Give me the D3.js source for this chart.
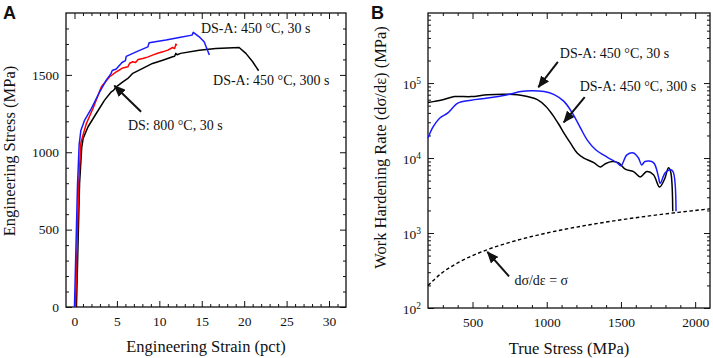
<!DOCTYPE html>
<html>
<head>
<meta charset="utf-8">
<script src="https://cdnjs.cloudflare.com/ajax/libs/d3/7.8.5/d3.min.js"></script>
<style>
  body { margin: 0; background: #fff; }
  svg { display: block; font-family: "Liberation Serif", "Times New Roman", serif; }
</style>
</head>
<body>
<svg id="chart" width="713" height="358"></svg>
<script>
// ---- panel A data: engineering strain (pct) vs engineering stress (MPa)
const blueA = [[0,0],[0.35,780],[0.55,1050],[0.75,1140],[1.2,1208],[2.0,1284],[2.97,1391],[3.75,1466],[4.3,1508],[4.45,1528],[4.92,1538],[5.6,1580],[6.0,1592],[6.1,1620],[7.27,1649],[8.64,1681],[8.8,1707],[10.78,1725],[12.34,1742],[13.85,1757],[14.0,1775],[14.7,1746],[15.28,1714],[15.9,1628]];
const redA = [[0.12,0],[0.5,800],[0.75,1060],[1.0,1110],[1.41,1187],[2.19,1284],[3.17,1423],[4.14,1488],[4.92,1520],[5.4,1535],[5.7,1545],[6.29,1552],[6.5,1575],[6.87,1585],[7.2,1580],[7.5,1600],[8.04,1606],[8.6,1615],[9.2,1628],[9.8,1640],[10.4,1649],[11.0,1660],[11.57,1677],[11.8,1670],[11.95,1699],[12.05,1690]];
const blackA = [[0.23,0],[0.6,800],[0.85,1030],[1.02,1090],[1.6,1165],[2.58,1252],[3.55,1337],[4.34,1391],[4.6,1400],[4.92,1423],[5.7,1455],[6.29,1477],[6.87,1510],[8.04,1542],[9.2,1574],[10.4,1595],[11.57,1617],[11.8,1620],[11.95,1639],[12.1,1630],[12.5,1639],[14.7,1660],[16.65,1671],[19.4,1677],[20.2,1639],[21.0,1585],[21.7,1527]];

const xTicksA = [0, 5, 10, 15, 20, 25, 30];
const yTicksA = [0, 500, 1000, 1500];

// ---- panel B data: true stress (MPa) vs work hardening rate (MPa)
const blueStressB = [200,234,278,334,401,490,602,736,826,893,982,1050,1116,1172,1228,1272,1328,1406,1473,1500,1540,1585,1618,1640,1662,1719,1752,1764,1797,1827,1849,1871];
const blueRateB = [1.85e4,2.6e4,3.4e4,4.0e4,5.4e4,5.9e4,6.3e4,7.0e4,7.7e4,7.9e4,7.7e4,7.0e4,5.7e4,4.0e4,2.5e4,1.75e4,1.3e4,1.03e4,8.7e3,7.9e3,1.1e4,1.17e4,1.0e4,8.1e3,9.0e3,8.7e3,5.7e3,4.6e3,6.3e3,7.0e3,6.7e3,1.95e3];
const blackStressB = [200,245,300,379,490,602,736,803,870,937,993,1038,1082,1116,1160,1205,1250,1317,1361,1395,1440,1485,1529,1585,1630,1674,1719,1760,1795,1820,1835,1849];
const blackRateB = [5.5e4,5.7e4,6.0e4,6.6e4,6.6e4,7.0e4,7.1e4,7.0e4,6.6e4,6.0e4,4.9e4,3.8e4,2.8e4,2.15e4,1.58e4,1.17e4,1.0e4,8.7e3,7.6e3,8.4e3,9.0e3,8.6e3,7.1e3,6.6e3,5.6e3,6.6e3,6.0e3,4.1e3,5.3e3,7.4e3,6.5e3,1.95e3];
// dσ/dε = σ reference line
const refLineB = [[200,200],[300,300],[400,400],[600,600],[800,800],[1000,1000],[1300,1300],[1600,1600],[1900,1900],[2100,2100]];

const xTicksB = [500, 1000, 1500, 2000];
const yDecadesB = [2, 3, 4, 5];

const svg = d3.select("#chart");
const ink = "#111";

// arrowhead marker
svg.append("defs").append("marker")
    .attr("id", "head")
    .attr("markerUnits", "userSpaceOnUse")
    .attr("viewBox", "0 0 12 10")
    .attr("refX", 11).attr("refY", 5)
    .attr("markerWidth", 12).attr("markerHeight", 10)
    .attr("orient", "auto")
  .append("path")
    .attr("d", "M0,0 L12,5 L0,10 Z")
    .attr("fill", ink);

function drawTicks(g, x, y, xMajor, xMinor, yMajor, yMinor, frame, xFmt, yFmt) {
    const [l, r] = x.range();
    const [b, t] = y.range();
    const tidy = sel => {
        sel.select(".domain").remove();
        sel.selectAll("line").attr("stroke", ink).attr("stroke-width", 1);
        sel.selectAll("text").attr("fill", ink).attr("font-size", "13.5px")
            .attr("font-family", "Liberation Serif, Times New Roman, serif");
    };
    g.append("g").attr("transform", `translate(0,${b})`)
        .call(d3.axisBottom(x).tickValues(xMajor).tickSize(-6).tickPadding(9).tickFormat(xFmt)).call(tidy);
    g.append("g").attr("transform", `translate(0,${b})`)
        .call(d3.axisBottom(x).tickValues(xMinor).tickSize(-3).tickFormat("")).call(tidy);
    g.append("g").attr("transform", `translate(0,${t})`)
        .call(d3.axisTop(x).tickValues(xMajor).tickSize(-6).tickFormat("")).call(tidy);
    g.append("g").attr("transform", `translate(0,${t})`)
        .call(d3.axisTop(x).tickValues(xMinor).tickSize(-3).tickFormat("")).call(tidy);
    g.append("g").attr("transform", `translate(${l},0)`)
        .call(d3.axisLeft(y).tickValues(yMajor).tickSize(-6).tickPadding(7).tickFormat(yFmt)).call(tidy);
    g.append("g").attr("transform", `translate(${l},0)`)
        .call(d3.axisLeft(y).tickValues(yMinor).tickSize(-3).tickFormat("")).call(tidy);
    g.append("g").attr("transform", `translate(${r},0)`)
        .call(d3.axisRight(y).tickValues(yMajor).tickSize(-6).tickFormat("")).call(tidy);
    g.append("g").attr("transform", `translate(${r},0)`)
        .call(d3.axisRight(y).tickValues(yMinor).tickSize(-3).tickFormat("")).call(tidy);
    g.append("rect")
        .attr("x", l).attr("y", t).attr("width", r - l).attr("height", b - t)
        .attr("fill", "none").attr("stroke", ink).attr("stroke-width", 1.3);
}

function note(g, x, y, pos, str) {
    g.append("text").attr("x", x(pos[0])).attr("y", y(pos[1])).attr("dy", "0.35em")
        .attr("font-size", "14px").attr("fill", ink).text(str);
}
function arrow(g, x, y, from, to) {
    g.append("line")
        .attr("x1", x(from[0])).attr("y1", y(from[1]))
        .attr("x2", x(to[0])).attr("y2", y(to[1]))
        .attr("stroke", ink).attr("stroke-width", 2)
        .attr("marker-end", "url(#head)");
}

// ================= Panel A =================
const xA = d3.scaleLinear().domain([-1, 32]).range([66, 346]);
const yA = d3.scaleLinear().domain([0, 1900]).range([307, 13]);
const gA = svg.append("g");

drawTicks(gA, xA, yA, xTicksA, d3.range(0, 32, 1).filter(v => v % 5),
    yTicksA, d3.range(100, 1900, 100).filter(v => v % 500), true, d3.format("d"), d3.format("d"));

const lineA = d3.line().x(d => xA(d[0])).y(d => yA(d[1]));
[[blackA, "#000"], [redA, "#f00"], [blueA, "#1a1aff"]].forEach(([data, c]) => {
    gA.append("path").datum(data).attr("d", lineA)
        .attr("fill", "none").attr("stroke", c).attr("stroke-width", 1.5)
        .attr("stroke-linejoin", "round");
});

note(gA, xA, yA, [14.9, 1800], "DS-A: 450 °C, 30 s");
note(gA, xA, yA, [16.33, 1466], "DS-A: 450 °C, 300 s");
note(gA, xA, yA, [6.3, 1176], "DS: 800 °C, 30 s");
arrow(gA, xA, yA, [7.85, 1262], [4.7, 1430]);

gA.append("text").attr("x", 206).attr("y", 352).attr("text-anchor", "middle")
    .attr("font-size", "16.5px").attr("fill", ink).text("Engineering Strain (pct)");
gA.append("text").attr("transform", "translate(14.5,151) rotate(-90)").attr("text-anchor", "middle")
    .attr("font-size", "16.5px").attr("fill", ink).text("Engineering Stress (MPa)");
gA.append("text").attr("x", 3).attr("y", 18.5)
    .attr("font-family", "Liberation Sans, Arial, sans-serif").attr("font-weight", "bold")
    .attr("font-size", "18px").attr("fill", ink).text("A");

// ================= Panel B =================
const xB = d3.scaleLinear().domain([200, 2100]).range([428, 710]);
const yB = d3.scaleLog().domain([100, 8.6e5]).range([308, 13]);
const gB = svg.append("g");

const yMinorB = [];
yDecadesB.forEach(p => { for (let m = 2; m <= 9; m++) yMinorB.push(m * Math.pow(10, p)); });
drawTicks(gB, xB, yB, xTicksB, d3.range(300, 2100, 100).filter(v => v % 500),
    yDecadesB.map(p => Math.pow(10, p)), yMinorB.filter(v => v < 8.6e5), true, d3.format("d"), () => "");

// log labels with superscripts
yDecadesB.forEach(p => {
    const t = gB.append("text").attr("x", 421).attr("y", yB(Math.pow(10, p))).attr("dy", "0.45em")
        .attr("text-anchor", "end").attr("font-size", "13.5px").attr("fill", ink);
    t.append("tspan").text("10");
    t.append("tspan").attr("dy", "-0.55em").attr("font-size", "9.5px").text(p);
});

const lineB = d3.line().x(d => xB(d[0])).y(d => yB(d[1])).curve(d3.curveCatmullRom.alpha(0.5));
const blackB = d3.zip(blackStressB, blackRateB);
const blueB = d3.zip(blueStressB, blueRateB);
[[blackB, "#000"], [blueB, "#1a1aff"]].forEach(([data, c]) => {
    gB.append("path").datum(data).attr("d", lineB)
        .attr("fill", "none").attr("stroke", c).attr("stroke-width", 1.5)
        .attr("stroke-linejoin", "round");
});
gB.append("path").datum(refLineB)
    .attr("d", d3.line().x(d => xB(d[0])).y(d => yB(d[1])).curve(d3.curveMonotoneX))
    .attr("fill", "none").attr("stroke", "#000").attr("stroke-width", 1.4)
    .attr("stroke-dasharray", "3.5,2.5");

note(gB, xB, yB, [1088, 2.51e5], "DS-A: 450 °C, 30 s");
note(gB, xB, yB, [1222, 9.2e4], "DS-A: 450 °C, 300 s");
note(gB, xB, yB, [782, 238], "dσ/dε = σ");
arrow(gB, xB, yB, [1075, 1.92e5], [944, 8.8e4]);
arrow(gB, xB, yB, [1256, 6.5e4], [1115, 3.0e4]);
arrow(gB, xB, yB, [746, 264], [600, 560]);

gB.append("text").attr("x", 569).attr("y", 354).attr("text-anchor", "middle")
    .attr("font-size", "16.5px").attr("fill", ink).text("True Stress (MPa)");
gB.append("text").attr("transform", "translate(386,147.5) rotate(-90)").attr("text-anchor", "middle")
    .attr("font-size", "16.5px").attr("fill", ink).text("Work Hardening Rate (dσ/dε) (MPa)");
gB.append("text").attr("x", 371).attr("y", 18.5)
    .attr("font-family", "Liberation Sans, Arial, sans-serif").attr("font-weight", "bold")
    .attr("font-size", "18px").attr("fill", ink).text("B");
</script>
</body>
</html>
